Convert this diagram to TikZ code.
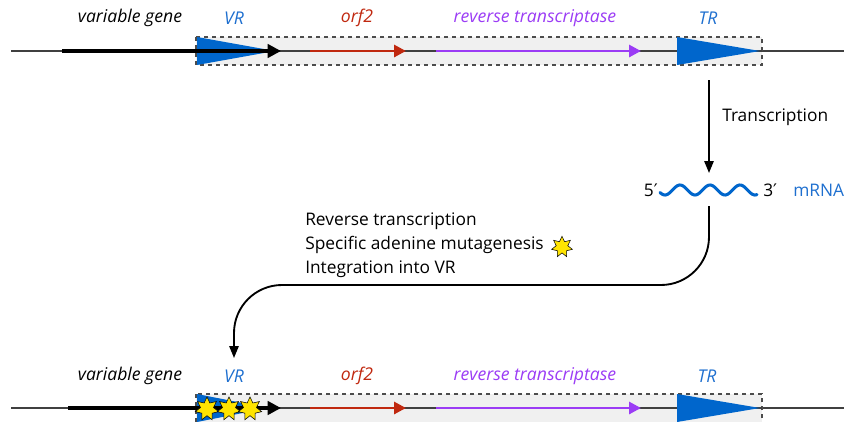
\documentclass[tikz,border=0pt]{standalone}
\usepackage{fontspec}
\setmainfont{Open Sans}
\newfontfamily\primefont{DejaVu Sans}
\usetikzlibrary{shapes.geometric,arrows.meta}
\definecolor{vrblue}{HTML}{0066CC}
\definecolor{lblblue}{HTML}{1E6FCF}
\definecolor{orfred}{HTML}{C0280F}
\definecolor{rtpurple}{HTML}{9B3CF5}
\definecolor{boxgray}{HTML}{F0F0F0}
\definecolor{stary}{HTML}{FFE400}
\tikzset{
  lab/.style={font=\fontsize{13.2}{16}\selectfont\itshape, inner sep=0pt},
  txt/.style={font=\fontsize{13}{17.7}\selectfont, inner sep=0pt},
  baseline/.style={line width=1.1pt, draw=black!75},
  genebox/.style={fill=boxgray, draw=black!70, dashed, line width=0.8pt},
  thickarrow/.style={line width=3.2pt, -{Triangle[length=10pt,width=10pt]}},
  genearrow/.style={line width=2.2pt, -{Triangle[length=9pt,width=9pt]}},
  conn/.style={line width=1.4pt, -{Triangle[length=9pt,width=7pt]}},
  mstar/.style={star, star points=7, star point ratio=1.8, fill=stary, draw=black, line width=0.4pt, minimum size=18, inner sep=0pt},
}
\begin{document}
\begin{tikzpicture}[x=0.75pt,y=-0.75pt]
\useasboundingbox (0,0) rectangle (844,422);
\clip (0,0) rectangle (844,422);
% ---------- top row ----------
\draw[baseline] (11,51) -- (844,51);
\draw[genebox] (196,37) rectangle (762,65);
\draw[baseline] (196,51) -- (762,51);
\fill[vrblue] (197,37) -- (275,51) -- (197,65) -- cycle;
\fill[vrblue] (677,37) -- (760,51) -- (677,65) -- cycle;
\coordinate (vgS) at (62,51);
\coordinate (vgE) at (281,51);
\draw[thickarrow] (vgS) -- (vgE);
\coordinate (orfS) at (310,51);
\coordinate (orfE) at (406,51);
\draw[genearrow, orfred] (orfS) -- (orfE);
\coordinate (rtS) at (436,51);
\coordinate (rtE) at (641,51);
\draw[genearrow, rtpurple] (rtS) -- (rtE);
\node[lab] (lvg) at (130,18) {variable gene};
\node[lab, text=lblblue] (lvr) at (234,18) {VR};
\node[lab, text=orfred] (lorf) at (357,18) {orf2};
\node[lab, text=rtpurple] (lrt) at (535,18) {reverse transcriptase};
\node[lab, text=lblblue] (ltr) at (708,18) {TR};
% ---------- transcription ----------
\coordinate (trS) at (709,80);
\coordinate (trE) at (709,173);
\draw[conn] (trS) -- (trE);
\node[txt, anchor=west] (ltrans) at (722,117) {Transcription};
\draw[vrblue, line width=2.3pt, line cap=round] plot[domain=-5:92, samples=90, smooth] ({665+\x},{190+5*cos(12*\x)});
\node[txt, anchor=east] (five) at (658,190) {5{\primefont ′}};
\node[txt, anchor=west] (three) at (763,190) {3{\primefont ′}};
\node[txt, anchor=west, text=lblblue] (mrna) at (793,190) {mRNA};
% ---------- reverse transcription ----------
\coordinate (rS) at (709,206);
\coordinate (rE) at (234,358);
\draw[conn, rounded corners=36] (rS) |- (470,285) -| (rE);
\node[txt, anchor=north west, align=left] (steps) at (305,213) {Reverse transcription\\Specific adenine mutagenesis\\Integration into VR};
\node[mstar, minimum size=16] (ks) at (562,247) {};
% ---------- bottom row ----------
\begin{scope}[shift={(0,357)}]
\draw[baseline] (11,51) -- (844,51);
\draw[genebox] (196,37) rectangle (762,70);
\draw[baseline] (196,51) -- (762,51);
\fill[vrblue] (197,37) -- (268,51) -- (197,65) -- cycle;
\fill[vrblue] (677,37) -- (760,51) -- (677,65) -- cycle;
\coordinate (bvgS) at (68,51);
\coordinate (bvgE) at (281,51);
\draw[thickarrow] (bvgS) -- (bvgE);
\coordinate (borfS) at (310,51);
\coordinate (borfE) at (406,51);
\draw[genearrow, orfred] (borfS) -- (borfE);
\coordinate (brtS) at (436,51);
\coordinate (brtE) at (641,51);
\draw[genearrow, rtpurple] (brtS) -- (brtE);
\node[mstar] (s1) at (207,52) {};
\node[mstar] (s2) at (229,52) {};
\node[mstar] (s3) at (250,52) {};
\node[lab] (blvg) at (130,19) {variable gene};
\node[lab, text=lblblue] (blvr) at (234,19) {VR};
\node[lab, text=orfred] (blorf) at (357,19) {orf2};
\node[lab, text=rtpurple] (blrt) at (535,19) {reverse transcriptase};
\node[lab, text=lblblue] (bltr) at (707,19) {TR};
\end{scope}
\end{tikzpicture}
\end{document}
